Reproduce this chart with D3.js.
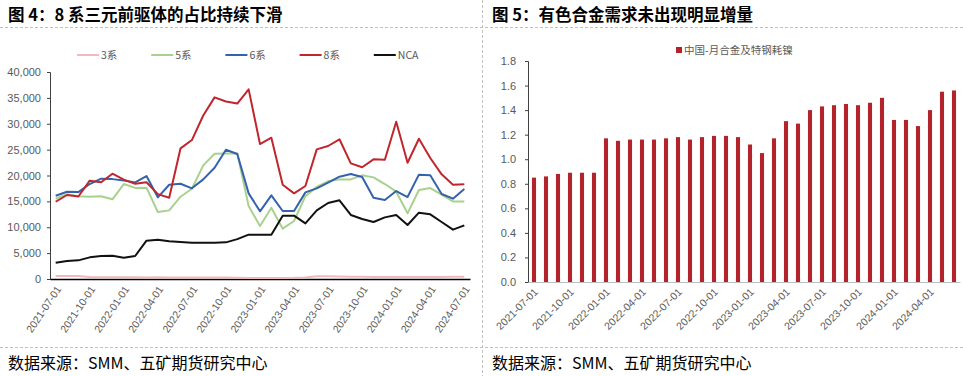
<!DOCTYPE html>
<html>
<head>
<meta charset="utf-8">
<script src="https://cdn.jsdelivr.net/npm/d3@7"></script>
<style>
  body { margin: 0; background: #fff; }
  svg { display: block; }
  .tick text { font-family: "Liberation Sans", Arial, sans-serif; fill: #595959; }
</style>
</head>
<body>
<div id="chart"></div>
<script>
// left chart: monthly output by chemistry, 2021-07 .. 2024-07
var months = [];
for (var y = 2021; y <= 2024; y++) {
  for (var m = 1; m <= 12; m++) {
    var k = y * 100 + m;
    if (k >= 202107 && k <= 202407) months.push(y + "-" + (m < 10 ? "0" + m : m) + "-01");
  }
}
var s3 = [600,600,580,400,350,350,350,330,300,320,300,280,280,300,280,270,250,200,180,200,200,220,300,550,520,500,450,420,400,380,380,380,380,400,400,420,450];
var s5 = [15500,16400,16000,15900,16000,15400,18350,17600,17650,12940,13260,15900,17450,21960,24200,24260,24260,14100,10240,13780,9720,11200,16000,17800,18900,19250,19250,20030,19640,18350,16870,12690,17200,17580,16290,15000,15000];
var s6 = [16100,16870,16800,18350,19380,19300,19050,18670,19900,15780,18220,18400,17520,19250,21500,24980,24150,16550,13080,16160,13140,13140,16740,17520,18610,19770,20280,19700,15710,15260,16990,15840,20160,20030,16420,15520,17390];
var s8 = [14930,16230,15950,19000,18700,20350,19200,18400,18700,16400,15700,25250,26850,31600,35100,34300,33900,36650,26080,27300,18220,16550,17970,25050,25700,27000,22350,21600,23120,23050,30400,22470,27100,23380,20220,18220,18300];
var nca = [3150,3470,3600,4180,4440,4500,4120,4440,7410,7600,7280,7150,7020,7020,7020,7080,7700,8570,8570,8570,12240,12240,10750,13260,14680,15200,12370,11600,11010,11910,12370,10430,12820,12500,11010,9530,10370];
var seriesNames = ["3系", "5系", "6系", "8系", "NCA"];
var seriesColors = ["#F4B8BC", "#A9D18E", "#3462AC", "#C0262E", "#111111"];

// right chart: China monthly nickel use in alloys & special steel, 2021-07 .. 2024-06
var barMonths = months.slice(0, 36);
var nickelAlloy = [0.85,0.86,0.88,0.89,0.89,0.89,1.17,1.15,1.16,1.16,1.16,1.17,1.18,1.16,1.18,1.19,1.19,1.18,1.12,1.05,1.17,1.31,1.29,1.40,1.43,1.44,1.45,1.44,1.46,1.50,1.32,1.32,1.27,1.40,1.55,1.56];

var W = 963, H = 376;
var cjk = "'Noto Sans CJK SC', sans-serif";
var svg = d3.select("#chart").append("svg").attr("width", W).attr("height", H);

// frame: titles, dashed rules
function dashed(x1, y1, x2, y2) {
  svg.append("line").attr("x1", x1).attr("y1", y1).attr("x2", x2).attr("y2", y2)
    .attr("stroke", "#BFBFBF").attr("stroke-dasharray", "3,2").attr("stroke-width", 1);
}
dashed(0, 27.5, W, 27.5);
dashed(0, 347.5, W, 347.5);
dashed(482.5, 0, 482.5, H);

svg.append("text").attr("x", 8).attr("y", 21).attr("font-family", cjk).attr("font-weight", "bold")
  .attr("font-size", 16.5).attr("fill", "#000").text("图 4：8 系三元前驱体的占比持续下滑");
svg.append("text").attr("x", 492).attr("y", 21).attr("font-family", cjk).attr("font-weight", "bold")
  .attr("font-size", 16.5).attr("fill", "#000").text("图 5：有色合金需求未出现明显增量");
svg.append("text").attr("x", 8).attr("y", 369).attr("font-family", cjk)
  .attr("font-size", 16).attr("fill", "#000").text("数据来源：SMM、五矿期货研究中心");
svg.append("text").attr("x", 492).attr("y", 369).attr("font-family", cjk)
  .attr("font-size", 16).attr("fill", "#000").text("数据来源：SMM、五矿期货研究中心");

// ---- left chart
var x1 = d3.scaleBand().domain(months).range([50, 470]);
var y1 = d3.scaleLinear().domain([0, 40000]).range([279, 72]);

var yAxis1 = svg.append("g").attr("transform", "translate(50,0)")
  .call(d3.axisLeft(y1).tickValues(d3.range(0, 40001, 5000)).tickSize(3).tickPadding(6).tickFormat(d3.format(",")));
yAxis1.selectAll("text").attr("font-size", 11);
yAxis1.select(".domain").attr("stroke", "#404040");
yAxis1.selectAll(".tick line").attr("stroke", "#404040");

var xAxis1 = svg.append("g").attr("transform", "translate(0,279)")
  .call(d3.axisBottom(x1).tickValues(months.filter(function(d, i) { return i % 3 === 0; })).tickSize(0).tickSizeOuter(0));
xAxis1.select(".domain").attr("stroke", "#000").attr("stroke-width", 1.5);
xAxis1.selectAll("text").attr("font-size", 10.5).attr("text-anchor", "end")
  .attr("transform", "translate(3,8) rotate(-56)").attr("dy", "0.35em").attr("dx", 0).attr("y", 0);

var allSeries = [s3, s5, s6, s8, nca];
var line = d3.line()
  .x(function(d, i) { return x1(months[i]) + x1.bandwidth() / 2; })
  .y(function(d) { return y1(d); });
allSeries.forEach(function(s, k) {
  svg.append("path").datum(s).attr("d", line).attr("fill", "none")
    .attr("stroke", seriesColors[k]).attr("stroke-width", 2).attr("stroke-linejoin", "round");
});

var legend1 = svg.append("g");
seriesNames.forEach(function(n, k) {
  var lx = 77 + k * 74.2;
  legend1.append("line").attr("x1", lx).attr("x2", lx + 22).attr("y1", 55).attr("y2", 55)
    .attr("stroke", seriesColors[k]).attr("stroke-width", 2);
  legend1.append("text").attr("x", lx + 24).attr("y", 59).attr("font-family", cjk)
    .attr("font-size", 10.5).attr("fill", "#595959").text(n);
});

// ---- right chart
var x2 = d3.scaleBand().domain(barMonths).range([528, 960]).paddingInner(0.66).paddingOuter(0.33);
var y2 = d3.scaleLinear().domain([0, 1.8]).range([282, 61]);

var yAxis2 = svg.append("g").attr("transform", "translate(528,0)")
  .call(d3.axisLeft(y2).tickValues(d3.range(0, 1.81, 0.2)).tickSize(3).tickPadding(9).tickFormat(d3.format(".1f")));
yAxis2.selectAll("text").attr("font-size", 11);
yAxis2.select(".domain").attr("stroke", "#404040");
yAxis2.selectAll(".tick line").attr("stroke", "#404040");

svg.append("g").selectAll("rect").data(nickelAlloy).join("rect")
  .attr("x", function(d, i) { return x2(barMonths[i]); })
  .attr("width", x2.bandwidth())
  .attr("y", function(d) { return y2(d); })
  .attr("height", function(d) { return y2(0) - y2(d); })
  .attr("fill", "#B3232B");

var xAxis2 = svg.append("g").attr("transform", "translate(0,282)")
  .call(d3.axisBottom(x2).tickValues(barMonths.filter(function(d, i) { return i % 3 === 0; })).tickSize(0).tickSizeOuter(0));
xAxis2.select(".domain").attr("stroke", "#BFBFBF");
xAxis2.selectAll("text").attr("font-size", 10.5).attr("text-anchor", "end")
  .attr("transform", "translate(2,8) rotate(-45)").attr("dy", "0.35em").attr("y", 0);

svg.append("rect").attr("x", 676).attr("y", 47).attr("width", 6).attr("height", 6).attr("fill", "#B3232B");
svg.append("text").attr("x", 684).attr("y", 54).attr("font-family", cjk)
  .attr("font-size", 10.5).attr("fill", "#595959").text("中国-月合金及特钢耗镍");
</script>
</body>
</html>
